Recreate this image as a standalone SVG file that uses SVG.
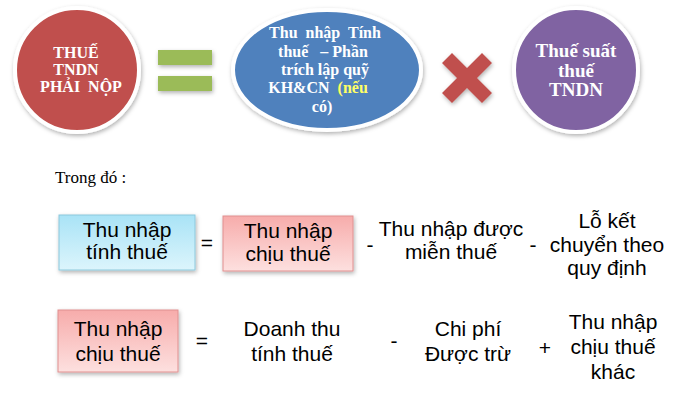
<svg xmlns="http://www.w3.org/2000/svg" width="685" height="402" viewBox="0 0 685 402">
<defs>
<linearGradient id="gBlue" x1="0" y1="0" x2="0" y2="1"><stop offset="0" stop-color="#a9e3f6"/><stop offset="1" stop-color="#dcf5fc"/></linearGradient>
<linearGradient id="gPink" x1="0" y1="0" x2="0" y2="1"><stop offset="0" stop-color="#f7acab"/><stop offset="1" stop-color="#fde0df"/></linearGradient>
<filter id="sh" x="-20%" y="-20%" width="140%" height="140%"><feDropShadow dx="1" dy="2" stdDeviation="2" flood-color="#000" flood-opacity="0.3"/></filter>
</defs>
<style>
.ser{font-family:"Liberation Serif","Times New Roman",serif;font-weight:bold;fill:#fff;text-anchor:middle}
.san{font-family:"Liberation Sans",Arial,sans-serif;font-size:21px;fill:#000;text-anchor:middle}
.box{stroke-width:1}
</style>
<rect width="685" height="402" fill="#fff"/>
<g id="red-circle">
<circle cx="77" cy="70" r="62" fill="#c0504d" stroke="#fff" stroke-width="4" filter="url(#sh)"/>
<text class="ser" font-size="16" x="76" y="58">THUẾ</text>
<text class="ser" font-size="16" x="76" y="75">TNDN</text>
<text class="ser" font-size="16" x="81" y="92" xml:space="preserve">PHẢI  NỘP</text>
</g>
<g id="equals-sign" filter="url(#sh)">
<rect x="158" y="50" width="54" height="15" fill="#9bbb59"/>
<rect x="158" y="76" width="54" height="15" fill="#9bbb59"/>
</g>
<g id="blue-ellipse">
<ellipse cx="327" cy="70" rx="94" ry="60" fill="#4f81bd" stroke="#fff" stroke-width="4" filter="url(#sh)"/>
<text class="ser" font-size="16" x="325" y="38" xml:space="preserve">Thu  nhập  Tính</text>
<text class="ser" font-size="16" x="323" y="57" xml:space="preserve">thuế   – Phần</text>
<text class="ser" font-size="16" x="325" y="75">trích lập quỹ</text>
<text class="ser" font-size="16" x="318" y="93" xml:space="preserve">KH&amp;CN  <tspan fill="#ffff66">(nếu</tspan></text>
<text class="ser" font-size="16" x="322" y="112" fill="#ffff66">có)</text>
</g>
<g id="times-sign" filter="url(#sh)">
<polygon points="452,53 467,68 482,53 492,63 477,78 492,93 482,103 467,88 452,103 442,93 457,78 442,63" fill="#c0504d"/>
</g>
<g id="purple-circle">
<circle cx="576" cy="70" r="62" fill="#8064a2" stroke="#fff" stroke-width="4" filter="url(#sh)"/>
<text class="ser" font-size="19" x="576" y="57">Thuế suất</text>
<text class="ser" font-size="19" x="576" y="77">thuế</text>
<text class="ser" font-size="19" x="576" y="96">TNDN</text>
</g>
<g id="label-trong-do">
<text x="55" y="183" font-family="'Liberation Serif','Times New Roman',serif" font-size="17" fill="#000">Trong đó :</text>
</g>
<g id="row1">
<g id="box-thu-nhap-tinh-thue">
<rect x="59" y="215" width="136" height="55" fill="url(#gBlue)" stroke="#8cc8dc" class="box" filter="url(#sh)"/>
<text class="san" x="127" y="237">Thu nhập</text>
<text class="san" x="127" y="259">tính thuế</text>
</g>
<text class="san" x="207" y="250">=</text>
<g id="box-thu-nhap-chiu-thue-1">
<rect x="223" y="216" width="130" height="55" fill="url(#gPink)" stroke="#e09090" class="box" filter="url(#sh)"/>
<text class="san" x="288" y="238">Thu nhập</text>
<text class="san" x="288" y="261">chịu thuế</text>
</g>
<text class="san" x="370" y="252">-</text>
<g id="text-mien-thue">
<text class="san" x="451" y="236">Thu nhập được</text>
<text class="san" x="451" y="259">miễn thuế</text>
</g>
<text class="san" x="533" y="252">-</text>
<g id="text-lo-ket-chuyen">
<text class="san" x="607" y="228">Lỗ kết</text>
<text class="san" x="607" y="252">chuyển theo</text>
<text class="san" x="607" y="275">quy định</text>
</g>
</g>
<g id="row2">
<g id="box-thu-nhap-chiu-thue-2">
<rect x="58" y="310" width="120" height="62" fill="url(#gPink)" stroke="#e09090" class="box" filter="url(#sh)"/>
<text class="san" x="118" y="336">Thu nhập</text>
<text class="san" x="118" y="361">chịu thuế</text>
</g>
<text class="san" x="202" y="348">=</text>
<g id="text-doanh-thu">
<text class="san" x="292" y="336">Doanh thu</text>
<text class="san" x="292" y="361">tính thuế</text>
</g>
<text class="san" x="394" y="348">-</text>
<g id="text-chi-phi">
<text class="san" x="468" y="336">Chi phí</text>
<text class="san" x="468" y="361">Được trừ</text>
</g>
<text class="san" x="545" y="355">+</text>
<g id="text-thu-nhap-khac">
<text class="san" x="613" y="329">Thu nhập</text>
<text class="san" x="613" y="354">chịu thuế</text>
<text class="san" x="613" y="379">khác</text>
</g>
</g>
</svg>
